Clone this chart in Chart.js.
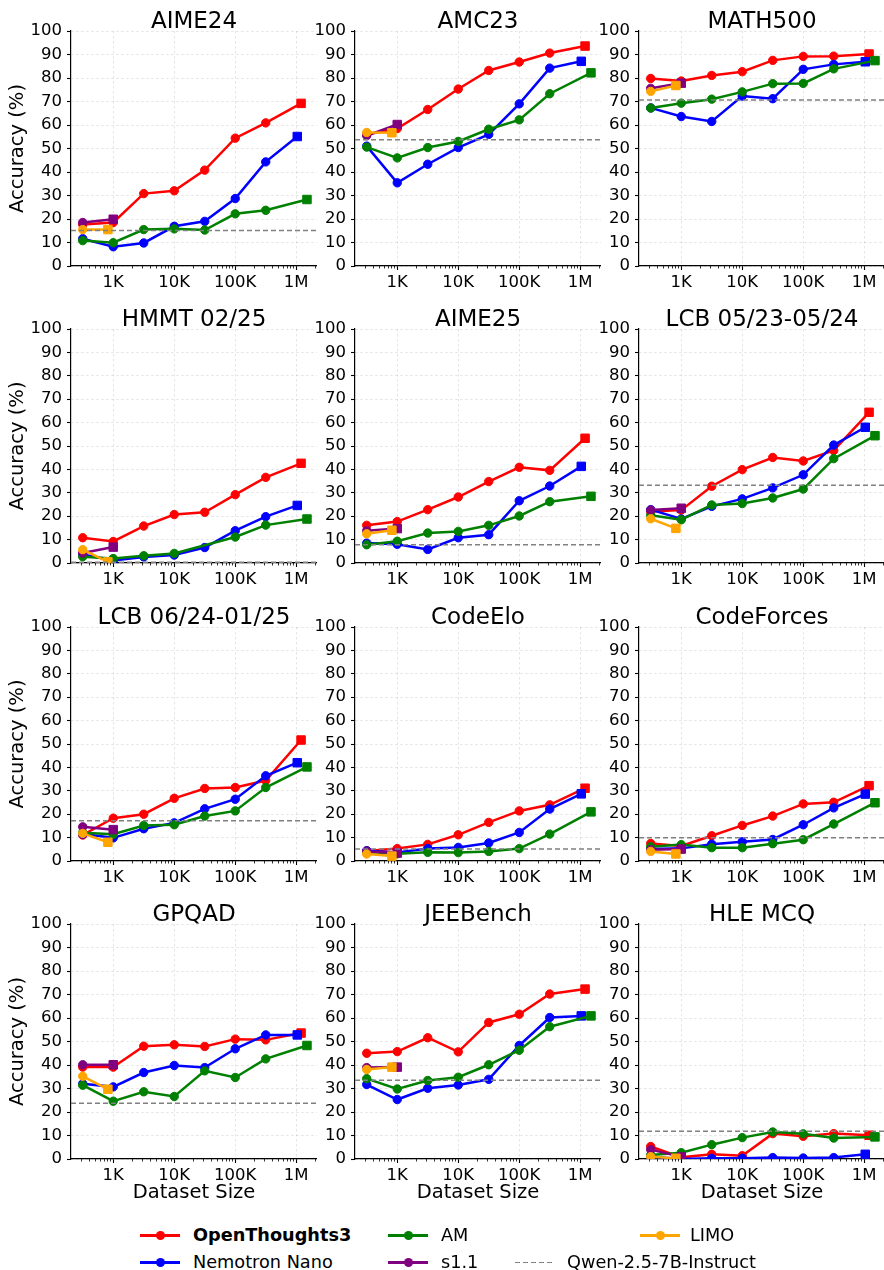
<!DOCTYPE html>
<html><head><meta charset="utf-8">
<script src="https://cdn.jsdelivr.net/npm/chart.js@4.4.0/dist/chart.umd.min.js"></script>
<style>
html,body{margin:0;padding:0;background:#fff;width:884px;height:1270px;overflow:hidden;position:relative;font-family:"DejaVu Sans",sans-serif;}
canvas.cv{position:absolute;}
.lgi{position:absolute;height:20px;}
.lgl{position:absolute;top:9px;height:2.5px;width:40px;}
.lgd{position:absolute;top:9.5px;width:38px;height:1.5px;background:repeating-linear-gradient(to right,#808080 0 5px,transparent 5px 8px);}
.lgm{position:absolute;top:5.5px;width:9px;height:9px;border-radius:50%;}
.lgt{position:absolute;top:0;line-height:20px;font-size:17.7px;color:#000;white-space:nowrap;}
</style></head><body>
<script>
// ---------------- data ----------------
const benchmarks = ["AIME24","AMC23","MATH500","HMMT 02/25","AIME25","LCB 05/23-05/24",
  "LCB 06/24-01/25","CodeElo","CodeForces","GPQAD","JEEBench","HLE MCQ"];

const xOpenThoughts3 = [316, 1000, 3162, 10000, 31623, 100000, 316228, 1200000];
const xNemotron      = [316, 1000, 3162, 10000, 31623, 100000, 316228, 1040000];
const xAM            = [316, 1000, 3162, 10000, 31623, 100000, 316228, 1500000];
const xS11           = [316, 1000];
const xLIMO          = [316, 817];

const xTickValues = [1000, 10000, 100000, 1000000];
const xTickLabels = ["1K", "10K", "100K", "1M"];

const openThoughts3 = [
  [17.7, 18.5, 30.8, 32.0, 40.8, 54.4, 60.9, 69.2],
  [56.0, 58.5, 66.6, 75.3, 83.2, 86.8, 90.6, 93.6],
  [79.8, 78.7, 81.1, 82.7, 87.5, 89.2, 89.3, 90.2],
  [10.8, 9.2, 15.8, 20.7, 21.7, 29.2, 36.6, 42.6],
  [16.1, 17.7, 22.8, 28.2, 34.8, 40.9, 39.6, 53.3],
  [22.0, 22.6, 32.8, 39.9, 45.1, 43.6, 48.1, 64.4],
  [11.1, 18.3, 20.0, 26.8, 31.0, 31.4, 34.4, 51.7],
  [4.3, 5.3, 7.1, 11.2, 16.5, 21.4, 24.0, 31.1],
  [7.5, 6.4, 10.8, 15.2, 19.2, 24.4, 25.1, 32.2],
  [39.1, 39.1, 48.0, 48.6, 47.9, 51.0, 50.7, 53.6],
  [45.0, 45.7, 51.6, 45.6, 58.1, 61.6, 70.2, 72.3],
  [5.3, 0.7, 2.0, 1.4, 10.8, 9.7, 10.8, 10.1]
];
const nemotronNano = [
  [11.6, 8.2, 9.8, 16.9, 19.0, 28.7, 44.3, 55.1],
  [51.0, 35.4, 43.3, 50.4, 56.0, 69.0, 84.2, 87.1],
  [67.3, 63.6, 61.5, 72.3, 71.2, 83.7, 85.8, 86.9],
  [3.6, 1.1, 2.6, 3.4, 6.6, 13.8, 19.8, 24.6],
  [8.5, 8.0, 5.8, 10.8, 12.1, 26.6, 32.9, 41.3],
  [22.8, 18.8, 24.2, 27.4, 32.1, 37.7, 50.4, 58.0],
  [11.5, 9.9, 13.8, 16.3, 22.3, 26.4, 36.4, 42.0],
  [4.4, 3.6, 5.3, 5.8, 7.7, 12.2, 22.2, 28.7],
  [5.1, 5.4, 7.2, 8.2, 9.2, 15.5, 22.7, 28.6],
  [32.0, 30.7, 36.8, 39.8, 38.9, 46.9, 52.8, 52.8],
  [31.7, 25.3, 30.1, 31.5, 33.9, 48.3, 60.2, 60.9],
  [1.0, 0.0, 0.3, 0.3, 0.6, 0.4, 0.6, 2.0]
];
const amSeries = [
  [10.8, 9.9, 15.5, 15.8, 15.3, 22.2, 23.7, 28.3],
  [50.6, 46.0, 50.4, 53.0, 58.2, 62.2, 73.3, 82.2],
  [67.2, 69.3, 71.0, 74.1, 77.6, 77.7, 83.9, 87.4],
  [2.7, 1.9, 3.1, 4.1, null, 11.1, 16.2, 18.8],
  [7.8, 9.3, 12.8, 13.5, 16.1, 20.1, 26.2, 28.5],
  [20.4, 18.5, 24.8, 25.4, 27.8, 31.6, 44.6, 54.4],
  [12.1, 11.4, 15.2, 15.5, 19.2, 21.4, 31.4, 40.2],
  [3.8, 3.1, 3.7, 3.6, 4.1, 5.3, 11.5, 21.0],
  [6.1, 7.0, 5.7, 5.7, 7.4, 9.1, 15.8, 24.9],
  [31.4, 24.6, 28.6, 26.6, 37.5, 34.7, 42.6, 48.3],
  [34.2, 29.8, 33.4, 34.8, 40.1, 46.3, 56.3, 60.9],
  [1.7, 2.7, 6.1, 9.1, 11.5, 10.7, 8.9, 9.4]
];
const s11Series = [
  [18.5, 19.9], [55.5, 60.2], [75.6, 77.8], [4.3, 6.8], [13.8, 14.7], [22.6, 23.4],
  [14.6, 13.4], [4.1, 3.4], [4.8, 5.1], [40.1, 40.1], [38.9, 39.1], [4.0, 0.9]
];
const limoSeries = [
  [15.5, 15.5], [56.8, 56.7], [74.3, 76.8], [5.7, 0.5], [12.5, 14.0], [18.9, 14.8],
  [11.8, 8.0], [3.0, 2.1], [4.1, 3.0], [35.2, 29.7], [38.1, 39.1], [1.0, 0.3]
];
const qwenBaseline = [15.1, 53.7, 70.6, 0.3, 7.8, 33.2, 17.2, 5.1, 9.9, 23.7, 33.5, 11.8];

// ---------------- layout ----------------
const FONT = "DejaVu Sans";
const colLeft = [71, 355, 639];
const rowTop = [31, 329, 627, 924];
const rowH = [235, 234, 234, 235];
const plotW = 246, yAxisW = 71, topPad = 31;

const panelTitle = {
  id: 'panelTitle',
  afterDraw(chart, args, o) {
    const {ctx, chartArea} = chart;
    ctx.save();
    ctx.font = o.size + 'px "' + FONT + '"';
    ctx.fillStyle = '#000';
    ctx.textAlign = 'center';
    ctx.textBaseline = 'alphabetic';
    ctx.fillText(o.text, (chartArea.left + chartArea.right) / 2, chartArea.top - o.gap);
    ctx.restore();
  }
};
const baselineLine = {
  id: 'baselineLine',
  afterDatasetsDraw(chart, args, o) {
    const {ctx, chartArea} = chart;
    const y = chart.scales.y.getPixelForValue(o.value);
    ctx.save();
    ctx.beginPath();
    ctx.setLineDash([5, 3]);
    ctx.strokeStyle = '#808080';
    ctx.lineWidth = 1.5;
    ctx.moveTo(chartArea.left, y);
    ctx.lineTo(chartArea.right, y);
    ctx.stroke();
    ctx.restore();
  }
};
const minorTicks = {
  id: 'minorTicks',
  afterDraw(chart) {
    const {ctx, chartArea} = chart;
    const xs = chart.scales.x;
    ctx.save();
    ctx.strokeStyle = '#000';
    ctx.lineWidth = 0.8;
    ctx.beginPath();
    for (let k = 2; k <= 6; k++) {
      for (let m = 2; m <= 9; m++) {
        const v = m * Math.pow(10, k);
        if (v < xs.min || v > xs.max) continue;
        const px = Math.round(xs.getPixelForValue(v)) + 0.5;
        ctx.moveTo(px, chartArea.bottom);
        ctx.lineTo(px, chartArea.bottom + 2.5);
      }
    }
    ctx.stroke();
    ctx.restore();
  }
};

function makeSeries(label, xs, ys, color, order) {
  const n = xs.length;
  return {
    label,
    data: xs.map((x, i) => ({x, y: ys[i]})),
    borderColor: color,
    backgroundColor: color,
    pointBackgroundColor: color,
    pointBorderColor: color,
    pointBorderWidth: 1,
    borderWidth: 2.5,
    pointStyle: xs.map((_, i) => i === n - 1 ? 'rect' : 'circle'),
    pointRadius: xs.map((_, i) => i === n - 1 ? 6 : 4.2),
    spanGaps: true,
    tension: 0,
    order,
    clip: 0
  };
}

benchmarks.forEach((name, i) => {
  const r = Math.floor(i / 3), c = i % 3;
  const isBottom = r === 3, isLeft = c === 0;
  const bottomH = isBottom ? 60 : 40;
  const W = yAxisW + plotW;
  const H = topPad + rowH[r] + bottomH;
  const cv = document.createElement('canvas');
  cv.className = 'cv';
  cv.width = W; cv.height = H;
  cv.style.width = W + 'px'; cv.style.height = H + 'px';
  cv.style.left = (colLeft[c] - yAxisW) + 'px';
  cv.style.top = (rowTop[r] - topPad) + 'px';
  document.body.appendChild(cv);

  new Chart(cv.getContext('2d'), {
    type: 'line',
    data: {
      datasets: [
        makeSeries('OpenThoughts3', xOpenThoughts3, openThoughts3[i], '#ff0000', 5),
        makeSeries('Nemotron Nano', xNemotron, nemotronNano[i], '#0000ff', 4),
        makeSeries('AM', xAM, amSeries[i], '#008000', 3),
        makeSeries('s1.1', xS11, s11Series[i], '#800080', 2),
        makeSeries('LIMO', xLIMO, limoSeries[i], '#ffa500', 1)
      ]
    },
    options: {
      responsive: false,
      animation: false,
      devicePixelRatio: 1,
      events: [],
      layout: {autoPadding: false, padding: {top: topPad, left: 0, right: 0, bottom: 0}},
      plugins: {
        legend: {display: false},
        tooltip: {enabled: false},
        title: {display: false},
        panelTitle: {text: name, size: 23, gap: 3},
        baselineLine: {value: qwenBaseline[i]}
      },
      scales: {
        x: {
          type: 'logarithmic',
          min: 203, max: 2190000,
          afterBuildTicks: (s) => { s.ticks = xTickValues.map(v => ({value: v})); },
          afterFit: (s) => { s.height = bottomH; s.paddingLeft = 0; s.paddingRight = 0; },
          ticks: {
            autoSkip: false, maxRotation: 0, padding: 3, color: '#000',
            font: {family: FONT, size: 16.5},
            callback: (v) => { const k = xTickValues.indexOf(v); return k >= 0 ? xTickLabels[k] : ''; }
          },
          grid: {color: 'rgba(0,0,0,0.13)', lineWidth: 0.8, tickColor: '#000', tickLength: 4, tickWidth: 1.1, tickBorderDash: []},
          border: {display: true, color: '#000', width: 1.2, dash: [2.5, 2.5]},
          title: {display: isBottom, text: 'Dataset Size', color: '#000', font: {family: FONT, size: 19.5}, padding: {top: 0, bottom: 14}}
        },
        y: {
          min: 0, max: 100,
          afterFit: (s) => { s.width = yAxisW; },
          ticks: {stepSize: 10, padding: 5, color: '#000', font: {family: FONT, size: 16.5}},
          grid: {color: 'rgba(0,0,0,0.13)', lineWidth: 0.8, tickColor: '#000', tickLength: 4, tickWidth: 1.1, tickBorderDash: []},
          border: {display: true, color: '#000', width: 1.2, dash: [2.5, 2.5]},
          title: {display: isLeft, text: 'Accuracy (%)', color: '#000', font: {family: FONT, size: 19.5}, padding: {top: 6, bottom: 0}}
        }
      }
    },
    plugins: [panelTitle, baselineLine, minorTicks]
  });
});

// ---------------- legend ----------------
const legendItems = [
  {text: 'OpenThoughts3', color: '#ff0000', x: 140, tx: 193, y: 1235, bold: true},
  {text: 'Nemotron Nano', color: '#0000ff', x: 140, tx: 193, y: 1262},
  {text: 'AM', color: '#008000', x: 388, tx: 441, y: 1235},
  {text: 's1.1', color: '#800080', x: 388, tx: 441, y: 1262},
  {text: 'LIMO', color: '#ffa500', x: 640, tx: 690, y: 1235},
  {text: 'Qwen-2.5-7B-Instruct', color: '#808080', x: 515, tx: 567, y: 1262, dashed: true}
];
legendItems.forEach(it => {
  const d = document.createElement('div');
  d.className = 'lgi';
  d.style.left = '0px'; d.style.top = (it.y - 10) + 'px'; d.style.width = '884px';
  if (it.dashed) {
    d.innerHTML = '<div class="lgd" style="left:' + it.x + 'px"></div>';
  } else {
    d.innerHTML = '<div class="lgl" style="left:' + it.x + 'px;background:' + it.color + '"></div>' +
      '<div class="lgm" style="left:' + (it.x + 15.5) + 'px;background:' + it.color + '"></div>';
  }
  d.innerHTML += '<div class="lgt" style="left:' + it.tx + 'px;font-weight:' + (it.bold ? 'bold' : 'normal') + '">' + it.text + '</div>';
  document.body.appendChild(d);
});
</script>
</body></html>
